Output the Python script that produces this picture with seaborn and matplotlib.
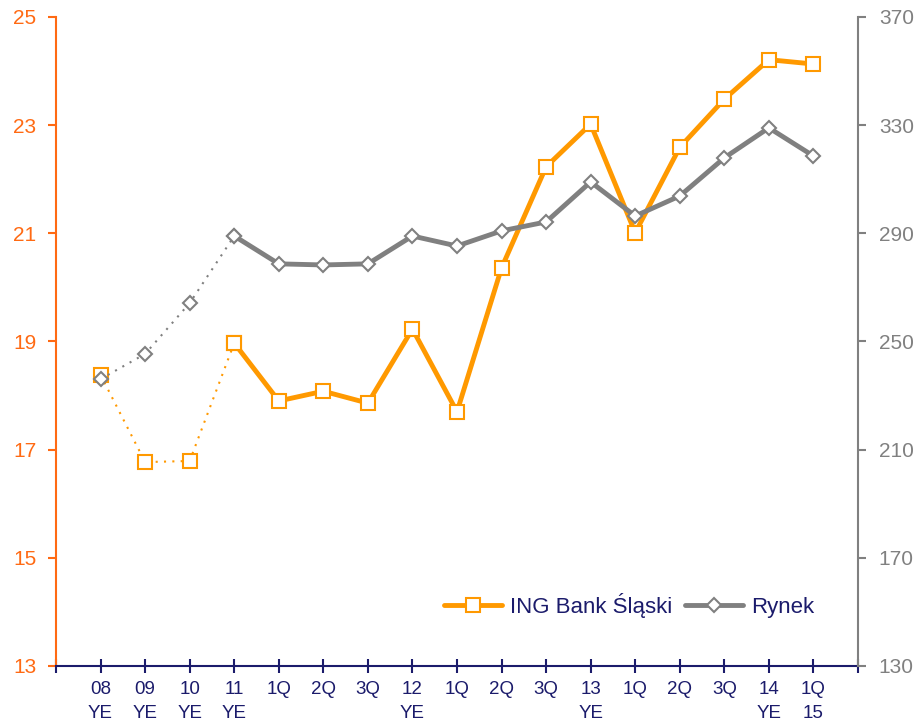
import matplotlib
matplotlib.use("Agg")
import matplotlib.pyplot as plt
import seaborn as sns
import pandas as pd
from matplotlib.lines import Line2D

# data
periods = ["08\nYE", "09\nYE", "10\nYE", "11\nYE", "1Q", "2Q", "3Q", "12\nYE",
           "1Q", "2Q", "3Q", "13\nYE", "1Q", "2Q", "3Q", "14\nYE", "1Q\n15"]
ing = [18.38, 16.77, 16.79, 18.97, 17.90, 18.08, 17.86, 19.23,
       17.70, 20.36, 22.23, 23.02, 21.01, 22.59, 23.48, 24.21, 24.13]
rynek = [236.1, 245.4, 264.2, 289.0, 278.7, 278.3, 278.7, 289.0,
         285.3, 290.9, 294.2, 309.0, 296.4, 303.8, 317.9, 329.0, 318.6]
legend_labels = ["ING Bank Śląski", "Rynek"]

ORANGE = "#FF9900"
ORANGE_TXT = "#FF6A13"
GREY = "#808080"
NAVY = "#1B1B6B"

sns.set_theme(style="white")
plt.rcParams["font.family"] = ["Liberation Sans", "DejaVu Sans"]

df = pd.DataFrame({"x": range(len(periods)), "ing": ing, "rynek": rynek})
hist = df.iloc[:4]
main = df.iloc[3:]

fig = plt.figure(figsize=(9.14, 7.22), dpi=100)
ax = fig.add_axes([0.0613, 0.0776, 0.8774, 0.8989])
ax2 = ax.twinx()

# ING - left axis
sns.lineplot(data=hist, x="x", y="ing", ax=ax, color=ORANGE, lw=1.5,
             linestyle=(0, (1, 3)), marker="s", markersize=9.5,
             markerfacecolor="white", markeredgecolor=ORANGE, markeredgewidth=1.5)
sns.lineplot(data=main, x="x", y="ing", ax=ax, color=ORANGE, lw=3.5,
             marker="s", markersize=9.5, markerfacecolor="white",
             markeredgecolor=ORANGE, markeredgewidth=1.5)

# Rynek - right axis
sns.lineplot(data=hist, x="x", y="rynek", ax=ax2, color=GREY, lw=1.5,
             linestyle=(0, (1, 3)), marker="D", markersize=7.5,
             markerfacecolor="white", markeredgecolor=GREY, markeredgewidth=1.5)
sns.lineplot(data=main, x="x", y="rynek", ax=ax2, color=GREY, lw=3.5,
             marker="D", markersize=7.5, markerfacecolor="white",
             markeredgecolor=GREY, markeredgewidth=1.5)

ax.set_xlim(-1, 17)
ax.set_ylim(13, 25)
ax2.set_ylim(130, 370)
ax.set_yticks(range(13, 26, 2))
ax2.set_yticks(range(130, 371, 40))
ax.set_xticks(range(-1, 18))
ax.set_xticklabels([""] + periods + [""])
ax.set_xlabel("")
ax.set_ylabel("")
ax2.set_ylabel("")

for a in (ax, ax2):
    for s in a.spines.values():
        s.set_visible(False)
ax.spines["left"].set_visible(True)
ax.spines["left"].set_color(ORANGE_TXT)
ax.spines["left"].set_linewidth(1.5)
ax.spines["bottom"].set_visible(True)
ax.spines["bottom"].set_color(NAVY)
ax.spines["bottom"].set_linewidth(1.5)
ax2.spines["right"].set_visible(True)
ax2.spines["right"].set_color(GREY)
ax2.spines["right"].set_linewidth(1.5)

ax.tick_params(axis="y", colors=ORANGE_TXT, labelsize=15, length=6, width=1.5,
               direction="out", left=True, pad=8)
ax.tick_params(axis="x", colors=NAVY, labelsize=13.5, length=10, width=1.5,
               direction="inout", bottom=True, pad=6)
ax2.tick_params(axis="y", colors=GREY, labelsize=15, length=6, width=1.5,
                direction="out", right=True, pad=9)
for t in ax.get_xticklabels():
    t.set_linespacing(1.55)

handles = [
    Line2D([], [], color=ORANGE, lw=3.5, marker="s", markersize=9.5,
           markerfacecolor="white", markeredgecolor=ORANGE, markeredgewidth=1.5),
    Line2D([], [], color=GREY, lw=3.5, marker="D", markersize=7.5,
           markerfacecolor="white", markeredgecolor=GREY, markeredgewidth=1.5),
]
leg = ax2.legend(handles, legend_labels, loc="lower right", bbox_to_anchor=(0.97, 0.043),
                 ncol=2, frameon=False, fontsize=16, handlelength=2.6,
                 columnspacing=0.6, handletextpad=0.35)
for t in leg.get_texts():
    t.set_color(NAVY)

fig.savefig("out.png", dpi=100)
